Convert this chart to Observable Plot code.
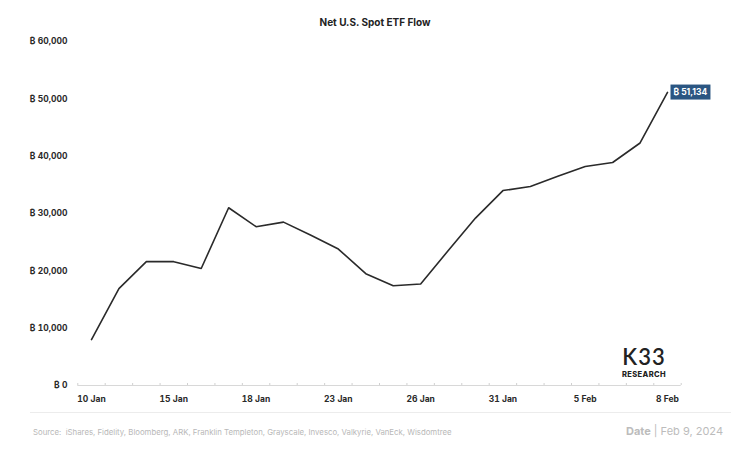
<!DOCTYPE html>
<html><head><meta charset="utf-8">
<script src="https://cdn.jsdelivr.net/npm/d3@7"></script>
<script src="https://cdn.jsdelivr.net/npm/@observablehq/plot@0.6"></script>
<style>
body{margin:0;background:#fff;font-family:Inter,"Open Sans",sans-serif}
#wrap{position:relative;width:750px;height:454px;overflow:hidden;background:#fff}
#wrap svg{position:absolute;left:0;top:0}
.ov{position:absolute;white-space:nowrap}
#title{left:0;width:750px;top:16px;text-align:center;font-size:10px;font-weight:700;color:#222}
#sep{left:30px;width:701px;top:412px;height:1px;background:#ececec}
#src{left:33px;top:427px;font-size:7.8px;color:#b8b8b8}
#date{right:27px;top:424px;font-size:11px;color:#bcbcbc}
#date b{font-weight:700}
#logoK{left:604px;width:80px;top:343px;text-align:center;color:#222;font-size:22px;font-weight:600;letter-spacing:1px;line-height:normal;font-family:Lato,"DejaVu Sans",sans-serif}
#logoR{left:604px;width:80px;top:370px;text-align:center;color:#222;font-size:7.5px;font-weight:800;letter-spacing:0.4px;line-height:normal}
</style></head><body>
<div id="wrap">
<div class="ov" id="title">Net U.S. Spot ETF Flow</div>
<div class="ov" id="sep"></div>
<div class="ov" id="src">Source:&nbsp; iShares, Fidelity, Bloomberg, ARK, Franklin Templeton, Grayscale, Invesco, Valkyrie, VanEck, Wisdomtree</div>
<div class="ov" id="date"><b>Date</b> | Feb 9, 2024</div>
<div class="ov" id="logoK">K33</div>
<div class="ov" id="logoR">RESEARCH</div>
</div>
<script>
const dates = ["10 Jan","11 Jan","12 Jan","15 Jan","16 Jan","17 Jan","18 Jan","19 Jan","22 Jan","23 Jan","24 Jan","25 Jan","26 Jan","29 Jan","30 Jan","31 Jan","1 Feb","2 Feb","5 Feb","6 Feb","7 Feb","8 Feb"];
const flow = [8000,16900,21600,21600,20400,31000,27700,28500,26200,23800,19500,17400,17700,23500,29200,34000,34700,36500,38200,38900,42300,51134];
const xTickLabels = ["10 Jan","15 Jan","18 Jan","23 Jan","26 Jan","31 Jan","5 Feb","8 Feb"];
const yTicks = [0,10000,20000,30000,40000,50000,60000];
const currency = "₿";

const data = dates.map((d,i)=>({i, date:d, value:flow[i]}));
const last = data[data.length-1];
const bounds = d3.range(dates.length+1).map(k=>k-0.5);
const fmt = d3.format(",");

const chart = Plot.plot({
  width:750, height:454,
  marginLeft:91, marginRight:83, marginTop:41, marginBottom:69,
  style:{fontFamily:"Inter, 'Open Sans', sans-serif", background:"transparent", overflow:"visible"},
  x:{domain:[0,dates.length-1], ticks:xTickLabels.map(l=>dates.indexOf(l)), tickFormat:i=>dates[i], tickSize:0, tickPadding:10, label:null},
  y:{domain:[0,60000], ticks:yTicks, tickFormat:d=>currency+" "+fmt(d), tickSize:0, tickPadding:24, label:null},
  marks:[
    Plot.ruleY([0], {x1:bounds[0], x2:bounds[bounds.length-1], stroke:"#d8d8d8", strokeWidth:1}),
    Plot.ruleX(bounds, {x:d=>d, y1:0, y2:0, insetTop:-2, stroke:"#d0d0d0"}),
    Plot.line(data, {x:"i", y:"value", stroke:"#2a2a2a", strokeWidth:1.6}),
    Plot.text([last], {x:"i", y:"value", text:d=>currency+" "+fmt(d.value), dx:6, textAnchor:"start", fill:"#fff", fontSize:8.5, fontWeight:700, className:"endlabel"})
  ]
});
chart.querySelectorAll("g[aria-label='y-axis tick label'] text, g[aria-label='x-axis tick label'] text").forEach(t=>{t.style.fontWeight="700";t.style.fill="#2a2a2a";});
const yl = chart.querySelector("g[aria-label='y-axis tick label']"); if(yl){yl.setAttribute("font-size","8.5");}
const xl = chart.querySelector("g[aria-label='x-axis tick label']"); if(xl){xl.setAttribute("font-size","8.5");}
document.getElementById("wrap").prepend(chart);
const lab = chart.querySelector(".endlabel text");
if(lab){
  const bb = lab.getBBox();
  const r = document.createElementNS("http://www.w3.org/2000/svg","rect");
  r.setAttribute("x", bb.x-3); r.setAttribute("y", bb.y-2.5);
  r.setAttribute("width", bb.width+6); r.setAttribute("height", bb.height+5);
  r.setAttribute("fill", "#2b5682");
  const g = lab.parentNode;
  g.insertBefore(r, lab);
  if(lab.getAttribute("transform")) r.setAttribute("transform", lab.getAttribute("transform"));
}
</script>
</body></html>
